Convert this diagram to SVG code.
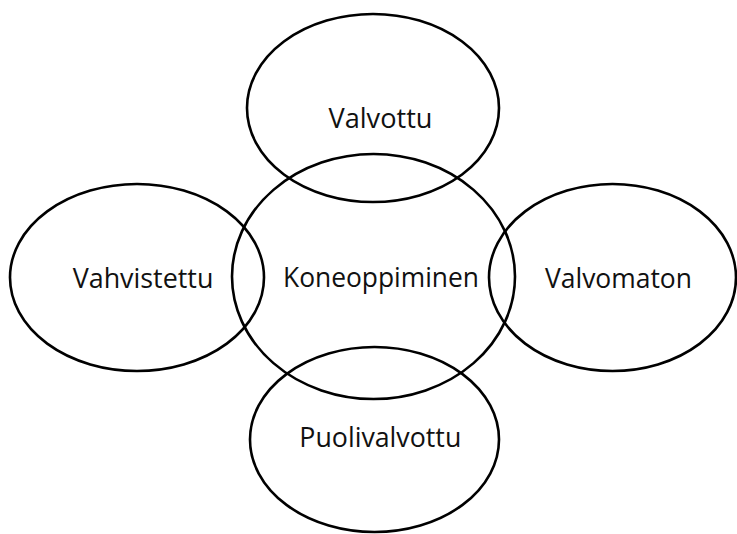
<svg xmlns="http://www.w3.org/2000/svg" width="737" height="534" viewBox="0 0 737 534">
  <style>
    .ring { fill: none; stroke: #000; stroke-width: 2.6; }
    .label { font-family: "Open Sans", "Noto Sans", "Liberation Sans", sans-serif; font-size: 26.5px; fill: #111; }
  </style>
  <rect width="737" height="534" fill="#fff"/>
  <g id="node-valvottu">
    <ellipse class="ring" cx="373" cy="108" rx="126" ry="94"/>
    <text class="label" x="328.5" y="128.3" textLength="104" lengthAdjust="spacingAndGlyphs">Valvottu</text>
  </g>
  <g id="node-koneoppiminen">
    <ellipse class="ring" cx="373.5" cy="276.5" rx="141.5" ry="122.5"/>
    <text class="label" x="283" y="287.3" textLength="196" lengthAdjust="spacingAndGlyphs">Koneoppiminen</text>
  </g>
  <g id="node-vahvistettu">
    <ellipse class="ring" cx="137" cy="277.5" rx="127" ry="93.5"/>
    <text class="label" x="72.7" y="287.7" textLength="140.7" lengthAdjust="spacingAndGlyphs">Vahvistettu</text>
  </g>
  <g id="node-valvomaton">
    <ellipse class="ring" cx="612.5" cy="277.5" rx="123.5" ry="93.5"/>
    <text class="label" x="545" y="288.3" textLength="147" lengthAdjust="spacingAndGlyphs">Valvomaton</text>
  </g>
  <g id="node-puolivalvottu">
    <ellipse class="ring" cx="374.5" cy="439.5" rx="124.5" ry="92.5"/>
    <text class="label" x="299.3" y="447.3" textLength="162" lengthAdjust="spacingAndGlyphs">Puolivalvottu</text>
  </g>
  <g id="connectors"/>
</svg>
